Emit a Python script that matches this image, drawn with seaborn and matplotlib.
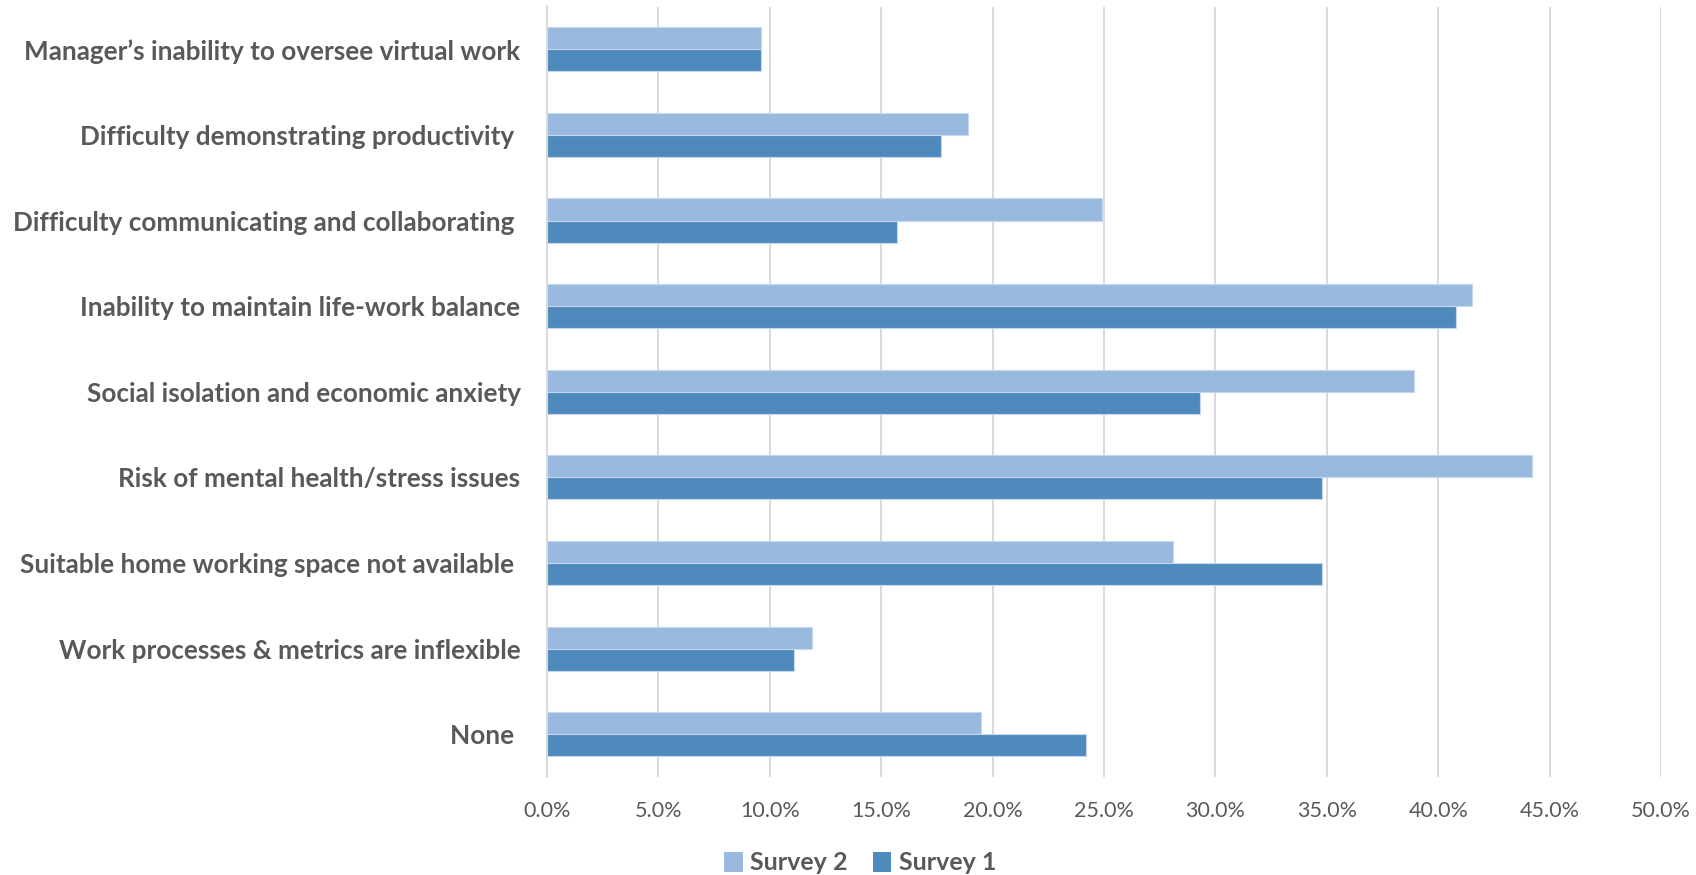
import matplotlib
matplotlib.use("Agg")
import matplotlib.pyplot as plt
from matplotlib.ticker import PercentFormatter
from matplotlib.patches import Patch
import seaborn as sns
import pandas as pd

# Reported barriers to remote working, share of respondents (%)
categories = [
    "Manager\u2019s inability to oversee virtual work",
    "Difficulty demonstrating productivity ",
    "Difficulty communicating and collaborating ",
    "Inability to maintain life-work balance",
    "Social isolation and economic anxiety",
    "Risk of mental health/stress issues",
    "Suitable home working space not available ",
    "Work processes & metrics are inflexible",
    "None ",
]
survey_2 = [9.6, 18.9, 24.9, 41.5, 38.9, 44.2, 28.1, 11.9, 19.5]
survey_1 = [9.6, 17.7, 15.7, 40.8, 29.3, 34.8, 34.8, 11.1, 24.2]
series_names = ["Survey 2", "Survey 1"]
tick_values = [0, 5, 10, 15, 20, 25, 30, 35, 40, 45, 50]

df = pd.DataFrame({
    "category": categories * 2,
    "share": survey_2 + survey_1,
    "survey": [series_names[0]] * len(categories) + [series_names[1]] * len(categories),
})

sns.set_theme(style="white")
plt.rcParams["font.family"] = ["Lato", "DejaVu Sans"]

light = "#99B9DF"
dark = "#4F8ABD"
text_color = "#595959"
grid_color = "#D9D9D9"

fig = plt.figure(figsize=(16.96, 8.75), dpi=100)
ax = fig.add_axes([547 / 1696, 1 - 777 / 875, (1661 - 547) / 1696, (777 - 6.5) / 875])

sns.barplot(
    data=df, y="category", x="share", hue="survey",
    hue_order=series_names, order=categories,
    palette=[light, dark], saturation=1, orient="h", width=0.515, gap=0,
    edgecolor="#C6D7EE", linewidth=0.8, ax=ax, legend=False,
)

ax.set_xlim(0, 50)
ax.set_ylim(len(categories) - 0.5, -0.5)
ax.set_xticks(tick_values)
ax.xaxis.set_major_formatter(PercentFormatter(xmax=100, decimals=1))
ax.grid(axis="x", color=grid_color, linewidth=1.4)
ax.set_axisbelow(True)
for side in ["top", "right", "bottom"]:
    ax.spines[side].set_visible(False)
ax.spines["left"].set_color(grid_color)
ax.spines["left"].set_linewidth(1.4)

ax.set_xlabel("")
ax.set_ylabel("")
ax.tick_params(axis="x", length=0, pad=17, labelsize=15.5, labelcolor=text_color)
ax.tick_params(axis="y", length=0, pad=19, labelcolor=text_color)
for lab in ax.get_yticklabels():
    lab.set_fontsize(18.8)
    lab.set_fontweight("bold")

handles = [Patch(facecolor=light, edgecolor="none"), Patch(facecolor=dark, edgecolor="none")]
leg = fig.legend(
    handles, series_names, loc="center", bbox_to_anchor=(860 / 1696, 1 - 863 / 875),
    ncol=2, frameon=False, handlelength=0.75, handleheight=0.9, handletextpad=0.3,
    columnspacing=1.0, prop={"size": 18, "weight": "bold"},
)
for t in leg.get_texts():
    t.set_color(text_color)

fig.savefig("out.png", dpi=100)
